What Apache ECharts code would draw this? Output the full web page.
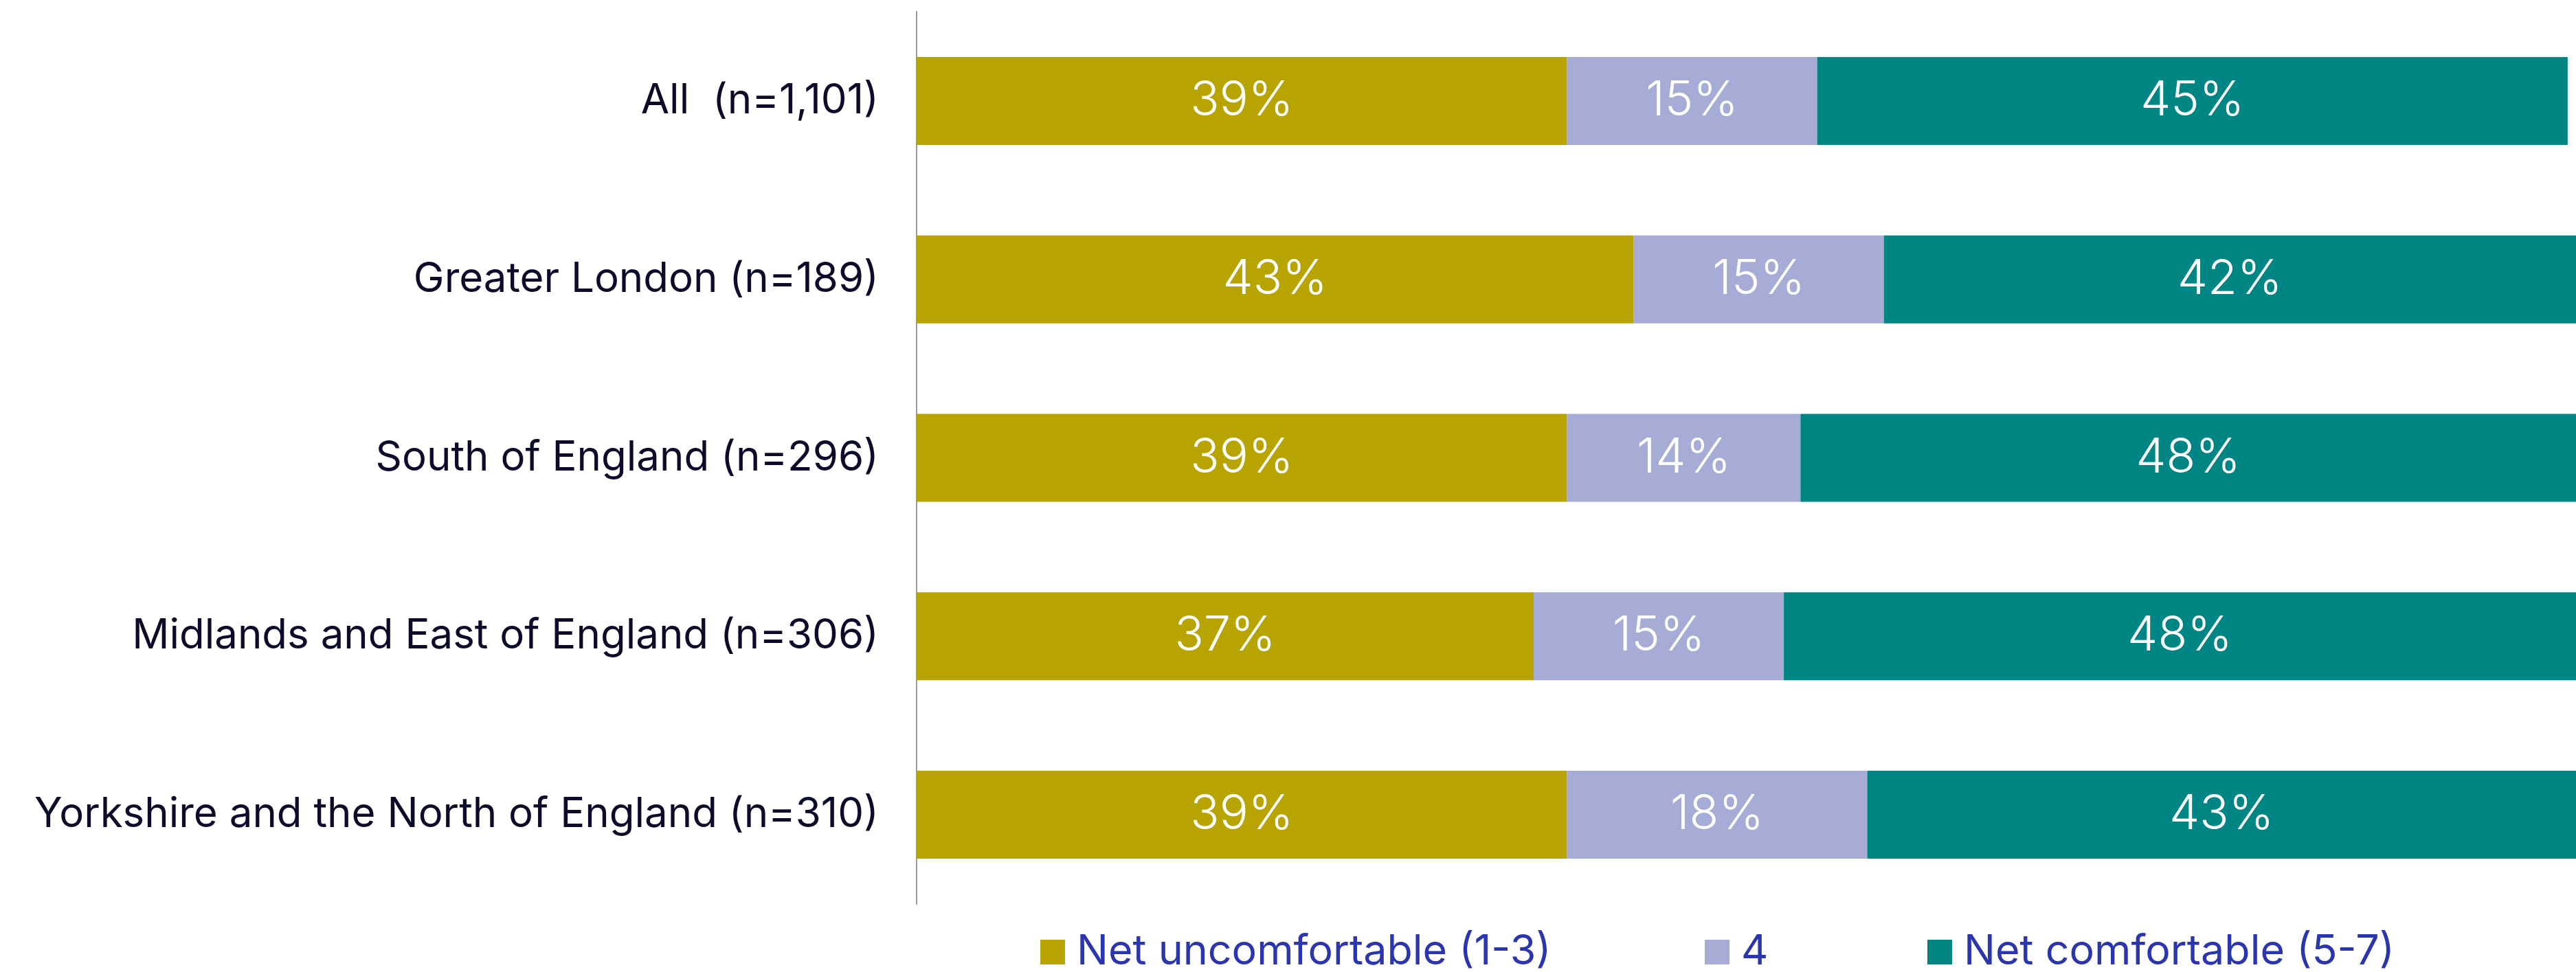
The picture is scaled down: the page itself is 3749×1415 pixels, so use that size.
<!DOCTYPE html>
<html>
<head>
<meta charset="utf-8">
<script src="https://cdn.jsdelivr.net/npm/echarts@6/dist/echarts.min.js"></script>
<style>
html,body{margin:0;padding:0;background:#fff;}
#chart{width:3749px;height:1415px;}
</style>
</head>
<body>
<div id="chart"></div>
<script>
const categories = [
  "All  (n=1,101)",
  "Greater London (n=189)",
  "South of England (n=296)",
  "Midlands and East of England (n=306)",
  "Yorkshire and the North of England (n=310)"
];
const seriesNames = ["Net uncomfortable (1-3)", "4", "Net comfortable (5-7)"];
const netUncomfortable = [39, 43, 39, 37, 39];
const neutral4 = [15, 15, 14, 15, 18];
const netComfortable = [45, 42, 48, 48, 43];
const colors = ["#B8A400", "#A7ACD6", "#008585"];

const FONT = "Inter";
const seriesData = [netUncomfortable, neutral4, netComfortable];

const chart = echarts.init(document.getElementById('chart'), null, {renderer: 'canvas'});

const legendLefts = [1514, 2481, 2805];

const option = {
  backgroundColor: '#ffffff',
  animation: false,
  grid: {left: 1334, top: 17, right: 0, height: 1299, containLabel: false},
  xAxis: {
    type: 'value', min: 0, max: 99.5,
    show: false,
    splitLine: {show: false}
  },
  yAxis: {
    type: 'category',
    data: categories,
    inverse: true,
    axisTick: {show: false},
    axisLine: {show: true, lineStyle: {color: '#9a9a9a', width: 2}},
    axisLabel: {
      margin: 55,
      color: '#0c0c2a',
      fontFamily: FONT,
      fontSize: 60
    }
  },
  legend: seriesNames.map((n, i) => ({
    data: [n],
    left: legendLefts[i],
    top: 1355,
    padding: 0,
    itemWidth: 36,
    itemHeight: 36,
    icon: 'rect',
    textStyle: {
      color: '#2b35ad',
      fontFamily: FONT,
      fontSize: 61,
      lineHeight: 62,
      padding: [0, 0, 0, 12]
    }
  })),
  series: seriesNames.map((n, i) => ({
    name: n,
    type: 'bar',
    stack: 'total',
    barWidth: 128,
    data: seriesData[i],
    itemStyle: {color: colors[i]},
    label: {
      show: true,
      position: 'inside',
      formatter: '{c}%',
      color: '#ffffff',
      fontFamily: FONT,
      fontWeight: 300,
      fontSize: 70
    }
  }))
};
chart.setOption(option);
</script>
</body>
</html>
